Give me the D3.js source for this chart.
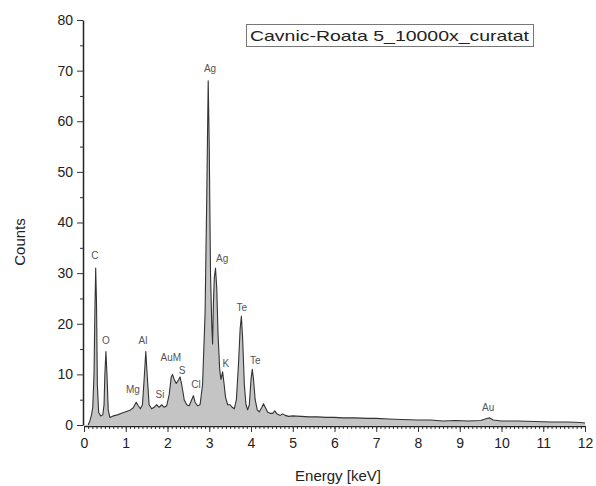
<!DOCTYPE html>
<html><head><meta charset="utf-8">
<script src="https://cdn.jsdelivr.net/npm/d3@7"></script>
<style>body{margin:0;background:#fff}svg{display:block}text{font-family:Arial,"Liberation Sans",sans-serif}</style>
</head><body><svg id="c" width="596" height="486"></svg>
<script>
const energy = [0.10,0.14,0.18,0.21,0.24,0.26,0.28,0.30,0.32,0.35,0.40,0.45,0.48,0.50,0.525,0.55,0.58,0.62,0.70,0.80,0.90,1.00,1.10,1.18,1.25,1.30,1.35,1.40,1.44,1.48,1.52,1.56,1.62,1.68,1.74,1.80,1.86,1.92,1.98,2.04,2.09,2.12,2.16,2.21,2.27,2.30,2.34,2.40,2.46,2.52,2.58,2.62,2.66,2.72,2.78,2.84,2.90,2.94,2.975,3.00,3.03,3.06,3.08,3.10,3.12,3.15,3.18,3.21,3.25,3.28,3.32,3.35,3.39,3.44,3.50,3.55,3.60,3.65,3.70,3.74,3.77,3.80,3.84,3.88,3.92,3.96,4.00,4.03,4.06,4.10,4.15,4.20,4.26,4.30,4.34,4.40,4.46,4.52,4.57,4.62,4.70,4.76,4.82,4.90,5.00,5.20,5.40,5.60,5.80,6.00,6.20,6.50,6.80,7.00,7.30,7.60,8.00,8.30,8.60,8.90,9.20,9.50,9.65,9.72,9.80,10.00,10.40,10.80,11.20,11.60,11.90,12.00];
const counts = [0,0.8,2,3.5,10,22,31,24,8,2.5,1.8,2,4,10,14.5,10,3,1.5,1.8,2.0,2.3,2.6,2.9,3.4,4.5,3.8,3.2,4,9,14.5,9,4,3.2,3.5,4,3.5,4,3.5,3.8,6,9.5,10,9,8.2,9,9.5,8,5,4,3.8,5,5.8,4.5,3.8,4,8,22,45,68,55,30,20,16,24,29,31,27,18,11,9,10.5,8.5,5.5,4,4,3.5,3.2,5,12,19,21.5,17,8,4,3,4,9,11,9,5,3,2.6,3.5,4.2,3.5,2.5,2.3,2.3,2.8,2.2,1.9,2.2,1.9,1.7,1.8,1.7,1.6,1.6,1.5,1.5,1.4,1.4,1.3,1.3,1.2,1.1,1.0,1.0,0.8,0.9,0.8,0.9,1.3,1.4,1.0,0.8,0.8,0.7,0.6,0.6,0.5,0.4];
const peakNames = ["C","O","Mg","Al","Si","AuM","S","Cl","Ag","Ag","K","Te","Te","Au"];
const peakE = [0.263,0.527,1.17,1.413,1.82,2.08,2.35,2.68,3.02,3.31,3.40,3.78,4.10,9.68];
const peakC = [32.8,16.0,6.4,16.0,5.4,12.7,10.0,7.4,69.8,32.1,11.4,22.6,12.0,2.7];
const xTicks = d3.range(0,13,1);
const yTicks = d3.range(0,90,10);
const legendText = "Cavnic-Roata 5_10000x_curatat";

const svg = d3.select("#c");
const x = d3.scaleLinear().domain([0,12]).range([84,585]);
const y = d3.scaleLinear().domain([0,80]).range([425,20]);
const pts = energy.map((e,i)=>[e,counts[i]]);

svg.append("path").datum(pts)
  .attr("d", d3.area().x(d=>x(d[0])).y0(y(0)).y1(d=>y(d[1])))
  .attr("fill","#c4c4c4");
svg.append("path").datum(pts)
  .attr("d", d3.line().x(d=>x(d[0])).y(d=>y(d[1])))
  .attr("fill","none").attr("stroke","#333").attr("stroke-width",1.1).attr("stroke-linejoin","round");

// axes
const gx = svg.append("g").attr("transform","translate(0,426)");
gx.call(d3.axisBottom(x).tickValues(d3.range(0,12.01,0.1)).tickSize(3).tickFormat(""));
gx.call(g=>g.select(".domain").remove());
const gx2 = svg.append("g").attr("transform","translate(0,426)");
gx2.call(d3.axisBottom(x).tickValues(xTicks).tickSize(6).tickFormat(d3.format("d")).tickSizeOuter(0));
gx2.selectAll("text").attr("font-size",14).attr("fill","#222").attr("dy","0.95em").attr("font-family","Arial, Liberation Sans");

const gy = svg.append("g").attr("transform","translate(83,0)");
gy.call(d3.axisLeft(y).tickValues(d3.range(5,80,10)).tickSize(3).tickFormat(""));
gy.call(g=>g.select(".domain").remove());
const gy2 = svg.append("g").attr("transform","translate(83,0)");
gy2.call(d3.axisLeft(y).tickValues(yTicks).tickSize(6).tickSizeOuter(0));
gy2.selectAll("text").attr("font-size",14).attr("fill","#222").attr("x",-10).attr("font-family","Arial, Liberation Sans");
svg.selectAll(".domain").attr("stroke","#222").attr("stroke-width",1.5);
svg.selectAll(".tick line").attr("stroke","#333");

// peak labels
svg.append("g").selectAll("text").data(peakNames).join("text")
  .attr("x",(d,i)=>x(peakE[i])).attr("y",(d,i)=>y(peakC[i]))
  .attr("text-anchor","middle").attr("font-size",10).attr("fill","#555").text(d=>d);

// axis titles
svg.append("text").attr("transform","translate(25,242) rotate(-90)").attr("text-anchor","middle")
  .attr("font-size",15).attr("fill","#222").text("Counts");
svg.append("text").attr("x",338).attr("y",481).attr("text-anchor","middle")
  .attr("font-size",15).attr("fill","#222").text("Energy [keV]");

// legend
svg.append("rect").attr("x",246.5).attr("y",24.5).attr("width",287).attr("height",22)
  .attr("fill","#fff").attr("stroke","#777").attr("stroke-width",1);
svg.append("text").attr("x",250).attr("y",41).attr("font-size",15).attr("fill","#222")
  .attr("textLength",279).attr("lengthAdjust","spacingAndGlyphs").text(legendText);
</script></body></html>
